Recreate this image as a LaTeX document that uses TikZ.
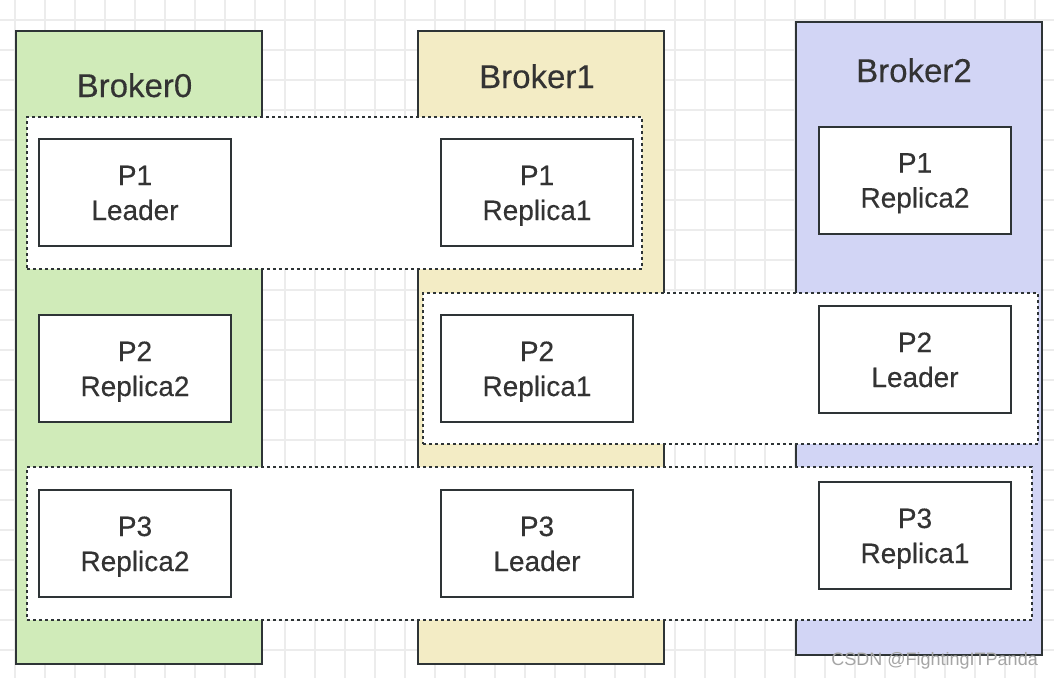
\documentclass[tikz,border=0pt]{standalone}
\usepackage{fontspec}
\setmainfont{Liberation Sans}
\newfontfamily\dfont[FakeBold=0.3]{Liberation Sans}
\definecolor{linec}{RGB}{46,52,54}
\definecolor{textc}{RGB}{51,51,51}
\definecolor{gridc}{RGB}{236,236,236}
\definecolor{bzero}{RGB}{208,235,185}
\definecolor{bone}{RGB}{243,236,197}
\definecolor{btwo}{RGB}{210,213,245}
\definecolor{markc}{RGB}{165,165,165}
\newcommand\pstrut{\rule[-7.5pt]{0pt}{35pt}}
\begin{document}
\begin{tikzpicture}[x=1pt,y=-1pt,
  broker/.style={draw=linec, line width=2pt, inner sep=0pt, minimum width=246pt, minimum height=633pt},
  group/.style={draw=linec, fill=white, line width=2.8pt, dash pattern=on 2.6pt off 3.4pt, inner sep=0pt},
  part/.style={draw=linec, fill=white, line width=2pt, minimum width=192pt, minimum height=107pt, inner sep=0pt, align=center, font=\dfont\fontsize{28}{35}\selectfont, text=textc},
  btitle/.style={font=\dfont\fontsize{33}{38}\selectfont, text=textc, anchor=base, inner sep=0pt}]
\useasboundingbox (0,0) rectangle (1054,678);
\fill[white] (0,0) rectangle (1054,678);
% grid
\foreach \gx in {15,45,...,1050} \draw[gridc, line width=1.5pt] (\gx,0) -- (\gx,678);
\foreach \gy in {20,50,...,678} \draw[gridc, line width=1.5pt] (0,\gy) -- (1054,\gy);
% brokers
\node[broker, fill=bzero] (b0) at (139,347.5) {};
\node[broker, fill=bone] (b1) at (541,347.5) {};
\node[broker, fill=btwo] (b2) at (919,338.5) {};
\node[btitle] (t0) at (134.5,97) {Broker0};
\node[btitle] (t1) at (537,88) {Broker1};
\node[btitle] (t2) at (914,82) {Broker2};
% groups
\node[group, minimum width=615pt, minimum height=152pt] (g1) at (334.5,193) {};
\node[group, minimum width=615pt, minimum height=151pt] (g2) at (730.5,368.5) {};
\node[group, minimum width=1005pt, minimum height=153pt] (g3) at (529.5,543.5) {};
% partitions
\node[part] (p1l) at (135,192.5) {\pstrut P1\\\pstrut Leader};
\node[part] (p1a) at (537,192.5) {\pstrut P1\\\pstrut Replica1};
\node[part] (p1b) at (915,180) {\pstrut P1\\\pstrut Replica2};
\node[part] (p2b) at (135,368.5) {\pstrut P2\\\pstrut Replica2};
\node[part] (p2a) at (537,368.5) {\pstrut P2\\\pstrut Replica1};
\node[part] (p2l) at (915,359.5) {\pstrut P2\\\pstrut Leader};
\node[part] (p3b) at (135,543.5) {\pstrut P3\\\pstrut Replica2};
\node[part] (p3l) at (537,543.5) {\pstrut P3\\\pstrut Leader};
\node[part] (p3a) at (915,535.5) {\pstrut P3\\\pstrut Replica1};
% watermark
\node[anchor=base east, inner sep=0pt, text=markc, font=\fontsize{18}{20}\selectfont] (wm) at (1038,665) {CSDN @FightingITPanda};
\end{tikzpicture}
\end{document}
